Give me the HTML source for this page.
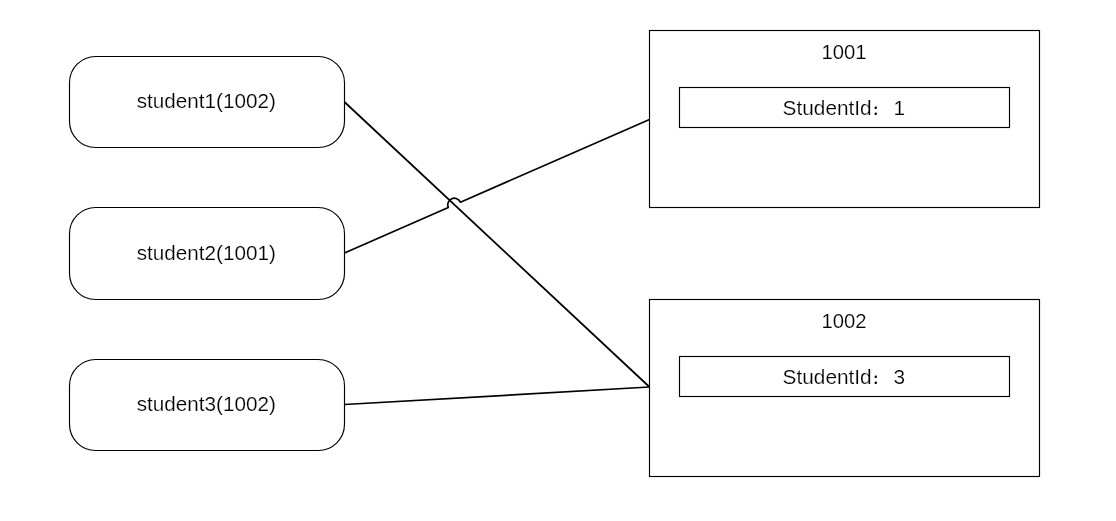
<!DOCTYPE html>
<html lang="zh">
<head>
<meta charset="utf-8">
<title>Student map diagram</title>
<style>
  html, body { margin: 0; padding: 0; background: #ffffff; }
  body { width: 1116px; height: 521px; overflow: hidden; }
  svg { display: block; will-change: transform; }
  .box { fill: #ffffff; stroke: #000000; stroke-width: 1.15; }
  .conn { fill: none; stroke: #000000; stroke-width: 1.75; stroke-linecap: butt; stroke-linejoin: round; }
  text { font-family: "Liberation Sans", "Noto Sans CJK SC", sans-serif; font-size: 20.5px; fill: #000000; stroke: #ffffff; stroke-width: 0.2px; paint-order: fill stroke; }
  .lbl { font-size: 20.7px; }
  .hd { font-size: 20.3px; }
  .kv { font-size: 20.8px; }
  .cjk { font-size: 12px; font-weight: 900; stroke: none; font-family: "Noto Sans CJK SC", "Liberation Sans", sans-serif; }
</style>
</head>
<body>
<svg width="1116" height="521" viewBox="0 0 1116 521">
  <rect x="0" y="0" width="1116" height="521" fill="#ffffff"/>

  <!-- left: student nodes -->
  <rect class="box" x="69.5" y="56.5" width="275" height="91" rx="26.2" ry="26.2"/>
  <rect class="box" x="69.5" y="207.5" width="275" height="92" rx="26.2" ry="26.2"/>
  <rect class="box" x="69.5" y="359.5" width="275" height="91" rx="26.2" ry="26.2"/>

  <text class="lbl" x="206.3" y="107.8" text-anchor="middle">student1(1002)</text>
  <text class="lbl" x="206.3" y="260.3" text-anchor="middle">student2(1001)</text>
  <text class="lbl" x="206.3" y="411.4" text-anchor="middle">student3(1002)</text>

  <!-- right: buckets -->
  <rect class="box" x="649.5" y="30.5" width="390" height="177"/>
  <rect class="box" x="679.5" y="87.5" width="330" height="40"/>
  <text class="hd" x="844" y="59" text-anchor="middle">1001</text>
  <text class="kv" x="782.6" y="114.8">StudentId<tspan class="cjk" x="872.7">：</tspan><tspan x="893.6">1</tspan></text>

  <rect class="box" x="649.5" y="299.5" width="390" height="177"/>
  <rect class="box" x="679.5" y="356.5" width="330" height="40"/>
  <text class="hd" x="844" y="328" text-anchor="middle">1002</text>
  <text class="kv" x="782.6" y="383.6">StudentId<tspan class="cjk" x="872.7">：</tspan><tspan x="893.6">3</tspan></text>

  <!-- connectors -->
  <path class="conn" d="M344.5 102 L649.5 387"/>
  <path class="conn" d="M344.5 404.5 L649.5 387"/>
  <path class="conn" d="M344.5 253 L448.3 207.5 A6.6 6.6 0 0 1 460.4 202.2 L649.5 119.5"/>
</svg>
</body>
</html>
